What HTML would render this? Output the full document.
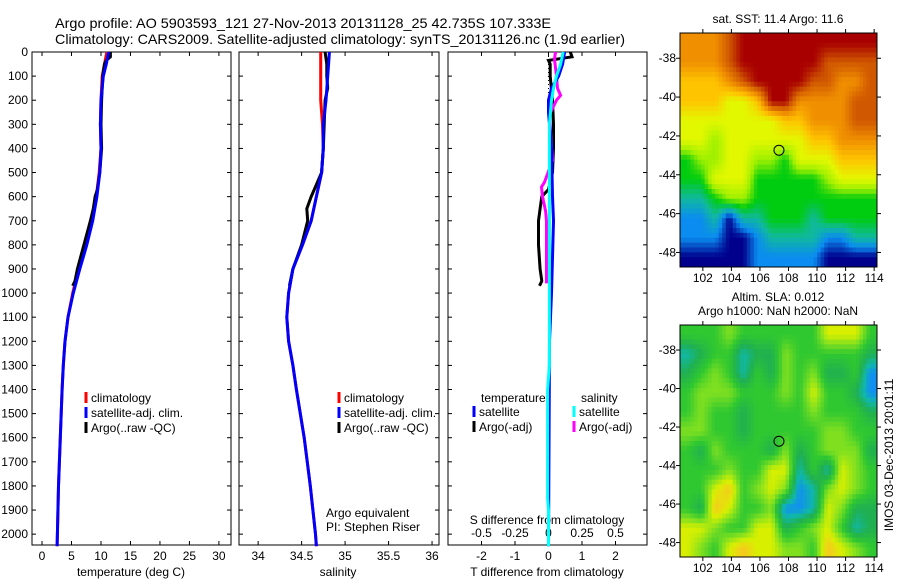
<!DOCTYPE html>
<html><head><meta charset="utf-8">
<style>
body{margin:0;background:#fff;}
svg{display:block;font-family:"Liberation Sans",sans-serif;}
text{font-size:12px;fill:#000;}
</style></head>
<body>
<svg id="fig" width="900" height="580" xmlns="http://www.w3.org/2000/svg">
<text x="55" y="28" style="font-size:14px" textLength="496" lengthAdjust="spacingAndGlyphs">Argo profile: AO 5903593_121 27-Nov-2013 20131128_25 42.735S 107.333E</text>
<text x="55" y="44" style="font-size:14px" textLength="570" lengthAdjust="spacingAndGlyphs">Climatology: CARS2009. Satellite-adjusted climatology: synTS_20131126.nc (1.9d earlier)</text>
<g id="g"></g>
</svg>
<script>
// ---- data ----
const depthClim=[0,50,100,200,300,400,500,600,700,800,900,1000,1100,1200,1300,1400,1600,1800,2000,2050];
const tempClim=[11.0,10.6,10.2,10.0,9.9,10.0,9.7,9.2,8.5,7.4,6.2,5.2,4.4,3.9,3.6,3.4,3.1,2.8,2.6,2.55];
const tempSat=[11.3,10.9,10.4,10.0,9.9,10.0,9.8,9.3,8.6,7.6,6.4,5.3,4.4,3.9,3.6,3.4,3.1,2.8,2.6,2.55];
const depthArgo=[0,20,35,50,100,200,300,400,500,570,600,650,700,800,900,950,970];
const tempArgo=[11.6,11.6,10.9,10.6,10.3,10.1,10.0,10.1,9.8,9.4,9.0,8.7,8.2,7.1,6.0,5.6,5.2];
const salClim=[34.72,34.72,34.72,34.72,34.74,34.75,34.73,34.67,34.61,34.51,34.40,34.35,34.33,34.35,34.40,34.44,34.53,34.60,34.66,34.67];
const salSat=[34.82,34.81,34.80,34.78,34.75,34.75,34.73,34.67,34.61,34.51,34.40,34.35,34.33,34.35,34.40,34.44,34.53,34.60,34.66,34.67];
const salDepthArgo=[0,50,100,150,200,300,400,500,550,600,650,700,800,900,970];
const salArgo=[34.77,34.79,34.79,34.80,34.77,34.76,34.75,34.73,34.67,34.61,34.56,34.57,34.50,34.40,34.36];
const dTArgoDepth=[0,20,35,50,100,200,300,400,500,570,600,650,700,800,900,950,970];
const dTArgo=[0.65,0.7,0,0.05,0.05,0.12,0.15,0.15,0.12,0,-0.2,-0.25,-0.3,-0.3,-0.25,-0.2,-0.27];
const dSArgoDepth=[0,30,100,150,180,200,260,450,540,560,600,660,700,960];
const dSArgo=[0.052,0.045,0.06,0.067,0.09,0.06,0.007,0.03,-0.03,-0.052,-0.045,-0.022,-0.015,-0.015];
const dTSatDepth=[0,50,100,150,200,250,400,600,700,1000,1200,2050];
const dTSat=[0.48,0.42,0.3,0.09,0,0,0.09,0.12,0.15,0.09,0.03,0];
const dSSatDepth=[0,50,100,150,200,300,1300,1400,1850,1900,2050];
const dSSat=[0.11,0.09,0.06,0.037,0.022,0.007,0.007,-0.007,-0.007,0,0];
const depthTicks=[0,100,200,300,400,500,600,700,800,900,1000,1100,1200,1300,1400,1500,1600,1700,1800,1900,2000];
const tempTicks=[0,5,10,15,20,25,30];
const salTicks=[34,34.5,35,35.5,36];
const salTickLabels=["34","34.5","35","35.5","36"];
const tdTicks=[-2,-1,0,1,2];
const sdTicks=[-0.5,-0.25,0,0.25,0.5];
const sdTickLabels=["-0.5","-0.25","0","0.25","0.5"];
const lonTicks=[102,104,106,108,110,112,114];
const latTicks=[-38,-40,-42,-44,-46,-48];
const sstGrid=[
"77789999999999","77789999998888","66678999988778","66655699777788",
"55555556677788","55455555566777","34455443555666","33555333334555",
"22344333333333","11202233323333","11100122221122","00000111110000"];
const slaGrid=[
"33343333335553","12331224333332","23431324342230","34443334353320",
"34332333343332","44332333334433","32433324234442","33343355131543",
"33563454014543","32653340015422","55433552345312","54356554436543"];
const argoLon=107.333, argoLat=-42.735;
// ---- drawing ----
const NS="http://www.w3.org/2000/svg";
const G=document.getElementById('g');
function el(tag,attrs,parent){const e=document.createElementNS(NS,tag);for(const k in attrs)e.setAttribute(k,attrs[k]);(parent||G).appendChild(e);return e;}
function txt(x,y,s,anchor,parent,size){const t=el('text',{x:x,y:y,'text-anchor':anchor||'start'},parent);if(size)t.style.fontSize=size+'px';t.textContent=s;return t;}
const yTop=52,yBot=545,dmax=2045;
const yD=d=>yTop+(yBot-yTop)*d/dmax;
function panel(name,x0,x1,xmin,xmax){
  const g=el('g',{});
  
  
  const xs=v=>x0+(x1-x0)*(v-xmin)/(xmax-xmin);
  el('rect',{x:x0,y:yTop,width:x1-x0,height:yBot-yTop,fill:'none',stroke:'#000','stroke-width':1},g);
  depthTicks.forEach(d=>{const y=yD(d);el('line',{x1:x0,x2:x0+4,y1:y,y2:y,stroke:'#000'},g);el('line',{x1:x1,x2:x1-4,y1:y,y2:y,stroke:'#000'},g);});
  return {g,xs};
}
function line(g,xs,depths,vals,color,w,name){
  const p=el('polyline',{points:depths.map((d,i)=>xs(vals[i]).toFixed(1)+','+yD(d).toFixed(1)).join(' '),fill:'none',stroke:color,'stroke-width':w||3},g);
  
  
}
// panel 1
const P1=panel('temperature-panel',32,231,-1.7,32.05);
depthTicks.forEach(d=>txt(28,yD(d)+4,String(d),'end',P1.g));
tempTicks.forEach(v=>{const x=P1.xs(v);el('line',{x1:x,x2:x,y1:yBot,y2:yBot-4,stroke:'#000'},P1.g);el('line',{x1:x,x2:x,y1:yTop,y2:yTop+4,stroke:'#000'},P1.g);txt(x,560,String(v),'middle',P1.g);});
txt(131,576,'temperature (deg C)','middle',P1.g);
line(P1.g,P1.xs,depthClim,tempClim,'#f00',3,'temp-climatology-line');
line(P1.g,P1.xs,depthArgo,tempArgo,'#000',3,'temp-argo-line');
line(P1.g,P1.xs,depthClim,tempSat,'#00f',3,'temp-satellite-line');
function legend(g,x,y,items,name){const lg=el('g',{},g);
 items.forEach((it,i)=>{const yy=y+i*15;el('line',{x1:x,x2:x,y1:yy-10,y2:yy+1,stroke:it[1],'stroke-width':3},lg);txt(x+5,yy,it[0],'start',lg);});}
legend(P1.g,86,402,[['climatology','#f00'],['satellite-adj. clim.','#00f'],['Argo(..raw -QC)','#000']],'temp-legend');
// panel 2
const P2=panel('salinity-panel',239,439,33.78,36.08);
salTicks.forEach((v,i)=>{const x=P2.xs(v);el('line',{x1:x,x2:x,y1:yBot,y2:yBot-4,stroke:'#000'},P2.g);el('line',{x1:x,x2:x,y1:yTop,y2:yTop+4,stroke:'#000'},P2.g);txt(x,560,salTickLabels[i],'middle',P2.g);});
txt(338,576,'salinity','middle',P2.g);
line(P2.g,P2.xs,depthClim,salClim,'#f00',3,'sal-climatology-line');
line(P2.g,P2.xs,salDepthArgo,salArgo,'#000',3,'sal-argo-line');
line(P2.g,P2.xs,depthClim,salSat,'#00f',3,'sal-satellite-line');
legend(P2.g,339,402,[['climatology','#f00'],['satellite-adj. clim.','#00f'],['Argo(..raw -QC)','#000']],'sal-legend');
txt(326,517,'Argo equivalent','start',P2.g);
txt(326,531,'PI: Stephen Riser','start',P2.g);
// panel 3
const P3=panel('difference-panel',448,647,-3,2.94);
const xsS=v=>P3.xs(v*4);
el('line',{x1:P3.xs(0),x2:P3.xs(0),y1:yTop,y2:yBot,stroke:'#000','stroke-dasharray':'1,3'},P3.g);
tdTicks.forEach(v=>{const x=P3.xs(v);el('line',{x1:x,x2:x,y1:yBot,y2:yBot-4,stroke:'#000'},P3.g);el('line',{x1:x,x2:x,y1:yTop,y2:yTop+4,stroke:'#000'},P3.g);txt(x,560,String(v),'middle',P3.g);});
sdTicks.forEach((v,i)=>txt(xsS(v),537,sdTickLabels[i],'middle',P3.g));
txt(547,576,'T difference from climatology','middle',P3.g);
txt(547,524,'S difference from climatology','middle',P3.g);
line(P3.g,P3.xs,dTArgoDepth,dTArgo,'#000',3,'dT-argo-line');
line(P3.g,xsS,dSArgoDepth,dSArgo,'#f0f',3,'dS-argo-line');
line(P3.g,P3.xs,dTSatDepth,dTSat,'#00f',3,'dT-satellite-line');
line(P3.g,xsS,dSSatDepth,dSSat,'#0ff',3,'dS-satellite-line');
txt(481,402,'temperature','start',P3.g);
txt(581,402,'salinity','start',P3.g);
legend(P3.g,474,416,[['satellite','#00f'],['Argo(-adj)','#000']],'dT-legend');
legend(P3.g,574,416,[['satellite','#0ff'],['Argo(-adj)','#f0f']],'dS-legend');
// maps
const sstCols=[[0,0,140],[10,140,240],[16,184,160],[0,204,16],[158,240,0],[226,248,0],[255,196,0],[240,144,0],[208,88,0],[168,0,0]];
const slaCols=[[16,144,240],[16,184,168],[32,176,80],[48,200,48],[128,224,32],[216,240,0],[248,200,32]];
function cmap(cols,v){v=Math.max(0,Math.min(cols.length-1,v));const i=Math.min(cols.length-2,Math.floor(v)),f=v-i;
  const c=cols[i].map((a,k)=>Math.round(a+(cols[i+1][k]-a)*f));return 'rgb('+c.join(',')+')';}
function map(name,y0,y1,grid,cols,titles){
  const x0=680,x1=877,lon0=100.4,lon1=114.2,lat0=-36.7,lat1=-48.75;
  const g=el('g',{});
  
  
  const R=grid.length,C=grid[0].length,F=4,RR=R*F,CC=C*F,cw=(x1-x0)/CC,ch=(y1-y0)/RR;
  const val=(r,c)=>+grid[Math.max(0,Math.min(R-1,r))][Math.max(0,Math.min(C-1,c))];
  for(let r=0;r<RR;r++)for(let c=0;c<CC;c++){
    const fr=(r+0.5)/F-0.5,fc=(c+0.5)/F-0.5,r0=Math.floor(fr),c0=Math.floor(fc),a=fr-r0,b=fc-c0;
    const v=(1-a)*((1-b)*val(r0,c0)+b*val(r0,c0+1))+a*((1-b)*val(r0+1,c0)+b*val(r0+1,c0+1));
    el('rect',{x:(x0+c*cw).toFixed(2),y:(y0+r*ch).toFixed(2),width:(cw+0.4).toFixed(2),height:(ch+0.4).toFixed(2),fill:cmap(cols,v)},g);
  }
  const lx=v=>x0+(x1-x0)*(v-lon0)/(lon1-lon0), ly=v=>y0+(y1-y0)*(v-lat0)/(lat1-lat0);
  el('rect',{x:x0,y:y0,width:x1-x0,height:y1-y0,fill:'none',stroke:'#000'},g);
  lonTicks.forEach(v=>{const x=lx(v);el('line',{x1:x,x2:x,y1:y1,y2:y1+4,stroke:'#000'},g);el('line',{x1:x,x2:x,y1:y0,y2:y0-4,stroke:'#000'},g);txt(x,y1+15,String(v),'middle',g);});
  latTicks.forEach(v=>{const y=ly(v);el('line',{x1:x0,x2:x0-4,y1:y,y2:y,stroke:'#000'},g);el('line',{x1:x1,x2:x1+4,y1:y,y2:y,stroke:'#000'},g);txt(676,y+4,String(v),'end',g);});
  const c=el('circle',{cx:lx(argoLon),cy:ly(argoLat),r:5,fill:'none',stroke:'#000'},g);
  
  
  titles.forEach((t,i)=>txt(778,y0-10-(titles.length-1-i)*14,t,'middle',g));
}
map('sst-map',33,267,sstGrid,sstCols,['sat. SST: 11.4 Argo: 11.6']);
map('sla-map',325,557,slaGrid,slaCols,['Altim. SLA: 0.012','Argo h1000: NaN h2000: NaN']);
const rt=txt(0,0,'IMOS 03-Dec-2013 20:01:11','middle');
rt.setAttribute('transform','translate(893,455) rotate(-90)');


</script>
</body></html>
